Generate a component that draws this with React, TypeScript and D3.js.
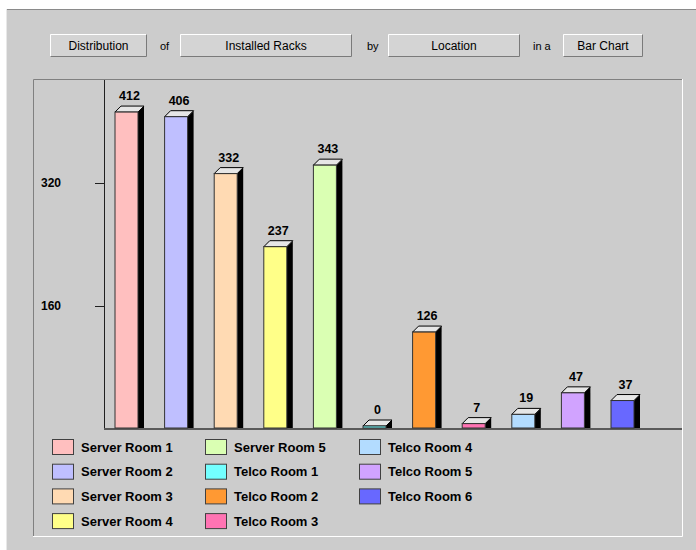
import * as d3 from "d3";
import { useEffect, useRef } from "react";

const categories = [
    "Server Room 1", "Server Room 2", "Server Room 3", "Server Room 4", "Server Room 5",
    "Telco Room 1", "Telco Room 2", "Telco Room 3", "Telco Room 4", "Telco Room 5", "Telco Room 6",
];
const values = [412, 406, 332, 237, 343, 0, 126, 7, 19, 47, 37];
const colors = [
    "#ffbfbf", "#bfbfff", "#ffdab3", "#ffff88", "#daffb3",
    "#73ffff", "#ff9933", "#ff73b3", "#b3dcff", "#d1a3ff", "#6868ff",
];
const yTicks = [160, 320];
const buttons = [
    { label: "Distribution", x0: 50, x1: 147 },
    { label: "Installed Racks", x0: 180, x1: 352 },
    { label: "Location", x0: 388, x1: 520 },
    { label: "Bar Chart", x0: 563, x1: 643 },
];
const joiners = [
    { label: "of", x: 160 },
    { label: "by", x: 367 },
    { label: "in a", x: 533 },
];

const App = () => {
    const svgRef = useRef<SVGSVGElement | null>(null);

    useEffect(() => {
        const svg = d3.select(svgRef.current);
        svg.selectAll("*").remove();

        const width = 696, height = 550;
        const bg = "#cccccc";
        const font = "'Liberation Sans', Arial, sans-serif";

        svg.append("rect").attr("width", width).attr("height", height).attr("fill", "#ffffff");
        svg.append("rect").attr("x", 6).attr("y", 9).attr("width", width - 6).attr("height", height - 9).attr("fill", bg);
        svg.append("line").attr("x1", 6).attr("x2", width).attr("y1", 9.5).attr("y2", 9.5).attr("stroke", "#8a8a8a");
        svg.append("line").attr("x1", 6.5).attr("x2", 6.5).attr("y1", 9).attr("y2", height).attr("stroke", "#e8e8e8");

        // ** Top "sentence" of buttons **
        const btn = svg.append("g").selectAll("g").data(buttons).join("g");
        btn.append("rect")
            .attr("x", d => d.x0).attr("y", 34).attr("width", d => d.x1 - d.x0).attr("height", 23)
            .attr("fill", "#d4d4d4");
        btn.append("path")
            .attr("d", d => `M${d.x0 + 0.5},${56.5} V${34.5} H${d.x1 - 0.5}`)
            .attr("fill", "none").attr("stroke", "#ffffff");
        btn.append("path")
            .attr("d", d => `M${d.x0 + 0.5},${56.5} H${d.x1 - 0.5} V${34.5}`)
            .attr("fill", "none").attr("stroke", "#7a7a7a");
        btn.append("text")
            .attr("x", d => (d.x0 + d.x1) / 2).attr("y", 50)
            .attr("text-anchor", "middle")
            .style("font-family", font).style("font-size", "12px").attr("fill", "#000")
            .text(d => d.label);

        svg.append("g").selectAll("text").data(joiners).join("text")
            .attr("x", d => d.x).attr("y", 50)
            .style("font-family", font).style("font-size", "11px").attr("fill", "#000")
            .text(d => d.label);

        // ** Sunken chart panel **
        const px0 = 33, py0 = 79, px1 = 683, py1 = 537;
        svg.append("path").attr("d", `M${px0 + 0.5},${py1} V${py0 + 0.5} H${px1}`)
            .attr("fill", "none").attr("stroke", "#808080");
        svg.append("path").attr("d", `M${px0},${py1 - 0.5} H${px1 - 0.5} V${py0}`)
            .attr("fill", "none").attr("stroke", "#ffffff");

        // ** Scales **
        const axisX = 104;
        const y = d3.scaleLinear().domain([0, 455]).range([429, 79]);
        const depth = 6;
        const x = d3.scaleBand()
            .domain(categories)
            .range([115, 115 + 49.6 * 10 + 23])
            .paddingInner(1 - 23 / 49.6)
            .paddingOuter(0);
        const bw = x.bandwidth();

        // ** Axes **
        svg.append("line").attr("x1", axisX + 0.5).attr("x2", axisX + 0.5)
            .attr("y1", py0 + 1).attr("y2", y(0)).attr("stroke", "#202020");
        svg.append("line").attr("x1", axisX).attr("x2", px1 - 1)
            .attr("y1", y(0)).attr("y2", y(0)).attr("stroke", "#5a5a5a").attr("stroke-width", 2);

        const tk = svg.append("g").selectAll("g").data(yTicks).join("g");
        tk.append("line")
            .attr("x1", axisX - 9).attr("x2", axisX)
            .attr("y1", d => Math.round(y(d)) + 0.5).attr("y2", d => Math.round(y(d)) + 0.5)
            .attr("stroke", "#202020");
        tk.append("text")
            .attr("x", 41).attr("y", d => y(d) + 4)
            .style("font-family", font).style("font-size", "12px").style("font-weight", "bold")
            .text(d => d);

        // ** 3D bars **
        const bars = svg.append("g").selectAll("g").data(categories).join("g");
        const top = (i: number) => Math.min(y(values[i]), y(0) - 3);

        bars.append("path") // side
            .attr("d", (d, i) => {
                const x0 = x(d)! + bw, t = top(i), b = y(0);
                return `M${x0},${t} L${x0 + depth},${t - depth} V${b - 1} H${x0} Z`;
            })
            .attr("fill", "#000");
        bars.append("path") // top face
            .attr("d", (d, i) => {
                const x0 = x(d)!, t = top(i);
                return `M${x0},${t} L${x0 + depth},${t - depth} H${x0 + bw + depth} L${x0 + bw},${t} Z`;
            })
            .attr("fill", "#e6e6e6").attr("stroke", "#000").attr("stroke-width", 1);
        bars.append("rect") // front
            .attr("x", d => x(d)!)
            .attr("y", (d, i) => top(i))
            .attr("width", bw)
            .attr("height", (d, i) => y(0) - 1 - top(i))
            .attr("fill", (d, i) => colors[i])
            .attr("stroke", "#333").attr("stroke-width", 1);
        bars.append("text")
            .attr("x", d => x(d)! + (bw + depth) / 2)
            .attr("y", (d, i) => top(i) - depth - 6)
            .attr("text-anchor", "middle")
            .style("font-family", font).style("font-size", "12.5px").style("font-weight", "bold")
            .text((d, i) => values[i]);

        // ** Legend (column-major, 4 rows) **
        const colX = [52, 205, 359];
        const leg = svg.append("g").selectAll("g").data(categories).join("g")
            .attr("transform", (d, i) => `translate(${colX[Math.floor(i / 4)]},${439 + (i % 4) * 24.7})`);
        leg.append("rect")
            .attr("x", 0.5).attr("y", 0.5).attr("width", 21).attr("height", 15)
            .attr("fill", (d, i) => colors[i]).attr("stroke", "#404040");
        leg.append("text")
            .attr("x", 29).attr("y", 12.5)
            .style("font-family", font).style("font-size", "13px").style("font-weight", "bold")
            .text(d => d);
    }, []);

    return (
        <svg ref={svgRef} width={696} height={550} style={{ position: "absolute", left: 0, top: 0 }} />
    );
};

export default App;
